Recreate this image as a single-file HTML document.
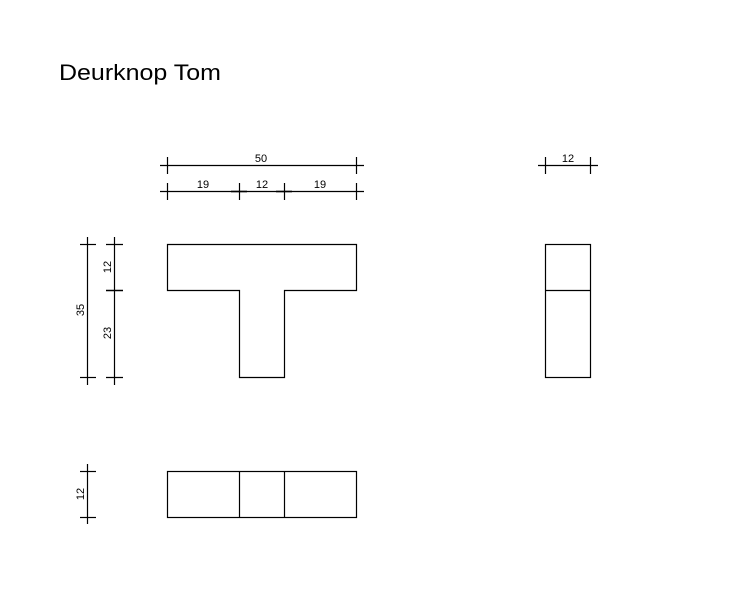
<!DOCTYPE html>
<html><head><meta charset="utf-8"><style>
html,body{margin:0;padding:0;background:#fff;width:750px;height:614px;overflow:hidden}
svg{display:block}
text{font-family:"Liberation Sans",sans-serif;fill:#000}
</style></head><body>
<svg width="750" height="614" viewBox="0 0 750 614" xmlns="http://www.w3.org/2000/svg">
<text x="59" y="80" font-size="22" textLength="162" lengthAdjust="spacingAndGlyphs">Deurknop Tom</text>
<g stroke="#000" stroke-width="1.2" fill="none">
<path d="M167.5 244.5H356.5V290.5H284.5V377.5H239.5V290.5H167.5Z"/>
<rect x="545.5" y="244.5" width="45" height="133"/>
<line x1="545" y1="290.5" x2="591" y2="290.5"/>
<rect x="167.5" y="471.5" width="189" height="46"/>
<line x1="239.5" y1="471" x2="239.5" y2="518"/>
<line x1="284.5" y1="471" x2="284.5" y2="518"/>
<line x1="160" y1="165.5" x2="364" y2="165.5"/>
<line x1="167.5" y1="157" x2="167.5" y2="174"/>
<line x1="356.5" y1="157" x2="356.5" y2="174"/>
<line x1="160" y1="191.5" x2="364" y2="191.5"/>
<line x1="167.5" y1="183" x2="167.5" y2="200"/>
<line x1="356.5" y1="183" x2="356.5" y2="200"/>
<line x1="239.5" y1="183" x2="239.5" y2="200"/>
<line x1="284.5" y1="183" x2="284.5" y2="200"/>
<line x1="231" y1="191.5" x2="247" y2="191.5" stroke-width="1.6"/>
<line x1="276" y1="191.5" x2="292" y2="191.5" stroke-width="1.6"/>
<line x1="538" y1="165.5" x2="598" y2="165.5"/>
<line x1="545.5" y1="157" x2="545.5" y2="174"/>
<line x1="590.5" y1="157" x2="590.5" y2="174"/>
<line x1="87.5" y1="237" x2="87.5" y2="385"/>
<line x1="80" y1="244.5" x2="96" y2="244.5"/>
<line x1="80" y1="377.5" x2="96" y2="377.5"/>
<line x1="114.5" y1="237" x2="114.5" y2="385"/>
<line x1="106" y1="244.5" x2="123" y2="244.5"/>
<line x1="106" y1="377.5" x2="123" y2="377.5"/>
<line x1="106" y1="290.5" x2="123" y2="290.5" stroke-width="1.6"/>
<line x1="87.5" y1="464" x2="87.5" y2="524"/>
<line x1="80" y1="471.5" x2="96" y2="471.5"/>
<line x1="80" y1="517.5" x2="96" y2="517.5"/>
</g>
<g font-size="11" text-anchor="middle">
<text x="261" y="162">50</text>
<text x="203" y="188">19</text>
<text x="262" y="188">12</text>
<text x="320" y="188">19</text>
<text x="568" y="162">12</text>
<text transform="translate(84,310) rotate(-90)">35</text>
<text transform="translate(111,267) rotate(-90)">12</text>
<text transform="translate(111,333) rotate(-90)">23</text>
<text transform="translate(84,494) rotate(-90)">12</text>
</g>
</svg>
</body></html>
